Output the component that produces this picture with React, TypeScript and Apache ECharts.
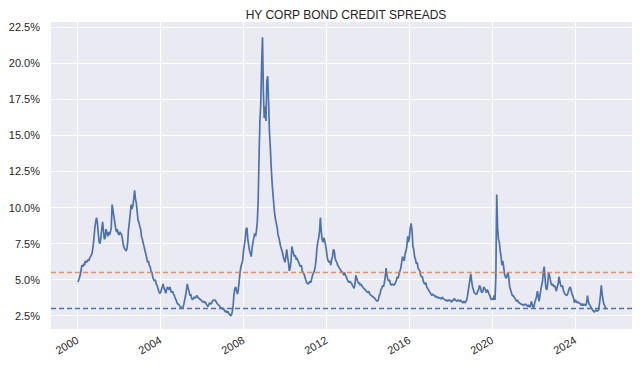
import React, { useEffect, useRef } from "react";
import * as echarts from "echarts";

// Semi-monthly readings (24 per year) of HY corporate bond OAS, in %
const startYear = 2000;
const pointsPerYear = 24;

const spreads2000s = [
  // 2000
  4.86, 4.9, 5.1, 5.3, 5.6, 6.0, 5.9, 6.1, 6.0, 6.3, 6.2, 6.25, 6.4, 6.3, 6.5, 6.6, 6.7, 6.9, 7.3, 7.9, 8.6, 9.0, 9.3, 8.9,
  // 2001
  8.2, 7.6, 7.5, 7.9, 8.5, 9.0, 8.4, 7.8, 7.9, 8.5, 8.3, 8.0, 8.3, 8.1, 8.3, 8.6, 10.2, 9.8, 9.4, 9.0, 8.6, 8.3, 8.5, 8.2,
  // 2002
  8.1, 8.3, 8.2, 8.1, 7.8, 7.4, 7.2, 7.1, 7.0, 7.1, 7.6, 8.5, 9.0, 9.6, 10.2, 9.9, 10.1, 10.6, 11.2, 10.6, 10.3, 9.7, 9.1, 9.0,
  // 2003
  8.7, 8.5, 8.0, 7.8, 7.5, 7.3, 7.0, 6.8, 6.5, 6.2, 6.3, 6.0, 5.9, 5.6, 5.5, 5.2, 5.0, 4.9, 5.0, 4.7, 4.6, 4.4, 4.2, 4.05,
  // 2004
  4.1, 4.3, 4.5, 4.7, 4.4, 4.3, 4.05, 4.3, 4.5, 4.4, 4.3, 4.5, 4.2, 4.1, 4.2, 4.0, 3.9, 3.7, 3.6, 3.4, 3.3, 3.3, 3.2, 3.1,
  // 2005
  3.1, 3.0, 3.1, 3.3, 3.6, 3.9, 4.3, 4.7, 4.4, 4.2, 3.9, 4.0, 3.7, 3.6, 3.7, 3.8, 3.7, 3.8, 3.9, 3.8, 3.7, 3.7, 3.6, 3.6,
  // 2006
  3.5, 3.45, 3.5, 3.4, 3.45, 3.3, 3.2, 3.15, 3.3, 3.4, 3.3, 3.35, 3.5, 3.6, 3.55, 3.6, 3.5, 3.4, 3.3, 3.25, 3.2, 3.1, 3.0, 3.05,
  // 2007
  2.95, 3.0, 2.85, 2.75, 2.85, 2.7, 2.8, 2.65, 2.6, 2.5, 2.55, 2.75, 3.2, 4.0, 4.4, 4.5, 4.2, 4.0, 4.3, 4.9, 5.5, 5.9, 6.1, 6.3,
  // 2008
  7.0, 7.4, 7.8, 8.5, 8.6, 7.8, 7.4, 7.0, 6.8, 6.6, 7.2, 7.6, 7.9, 8.2, 8.0, 8.4, 9.0, 10.5, 13.5, 16.0, 17.2, 19.9, 21.8, 18.0,
  // 2009
  16.2, 17.0, 16.0, 18.8, 19.1, 17.4, 15.3, 14.2, 12.9, 11.8, 11.0, 10.3, 9.6, 9.2, 8.9, 8.6, 8.1, 7.9, 7.6, 7.3, 7.1, 6.9, 6.6, 6.4,
];

const spreads2010s = [
  // 2010
  6.2, 6.6, 7.1, 6.6, 6.2, 5.6, 5.8, 6.3, 7.3, 7.0, 6.8, 6.6, 6.7, 6.4, 6.5, 6.3, 6.2, 6.0, 5.9, 6.0, 5.6, 5.5, 5.4, 5.2,
  // 2011
  5.0, 4.8, 4.75, 4.7, 4.8, 4.9, 4.8, 5.1, 5.3, 5.5, 5.6, 5.9, 6.4, 7.2, 7.6, 7.9, 8.4, 9.3, 8.3, 7.8, 7.6, 7.9, 7.7, 7.4,
  // 2012
  7.0, 6.5, 6.3, 6.2, 6.3, 6.0, 6.4, 6.6, 7.1, 7.0, 6.5, 6.3, 6.2, 6.0, 5.9, 5.8, 5.7, 5.6, 5.5, 5.5, 5.3, 5.5, 5.3, 5.2,
  // 2013
  5.0, 4.9, 4.8, 4.9, 4.8, 4.75, 4.6, 4.5, 4.4, 4.7, 5.3, 5.1, 4.9, 4.75, 4.8, 4.6, 4.7, 4.55, 4.5, 4.4, 4.35, 4.3, 4.2, 4.15,
  // 2014
  4.1, 4.2, 4.0, 3.95, 3.9, 3.85, 3.8, 3.75, 3.7, 3.6, 3.55, 3.5, 3.6, 3.9, 4.0, 4.3, 4.4, 4.6, 4.5, 4.8, 5.2, 5.8, 5.3, 5.0,
  // 2015
  4.9, 5.0, 4.7, 4.6, 4.7, 4.65, 4.6, 4.7, 4.8, 5.0, 5.2, 5.1, 5.4, 5.6, 5.8, 6.2, 6.6, 6.4, 6.3, 6.8, 7.0, 7.3, 8.0, 7.6,
  // 2016
  8.0, 8.6, 8.9, 8.4, 7.3, 7.1, 6.6, 6.4, 6.1, 6.2, 5.8, 5.7, 5.6, 5.3, 5.2, 5.2, 4.9, 4.75, 4.7, 4.8, 4.5, 4.4, 4.3, 4.2,
  // 2017
  4.1, 4.0, 3.9, 4.0, 3.95, 3.9, 3.8, 3.85, 3.75, 3.8, 3.7, 3.75, 3.7, 3.65, 3.8, 3.7, 3.65, 3.6, 3.55, 3.6, 3.5, 3.6, 3.55, 3.6,
  // 2018
  3.5, 3.45, 3.6, 3.55, 3.7, 3.6, 3.55, 3.5, 3.6, 3.55, 3.5, 3.6, 3.5, 3.45, 3.4, 3.5, 3.4, 3.45, 3.55, 3.8, 4.2, 4.6, 5.0, 5.4,
  // 2019
  4.9, 4.5, 4.3, 4.1, 4.05, 4.0, 4.0, 4.2, 4.3, 4.6, 4.5, 4.2, 4.1, 4.2, 4.5, 4.4, 4.3, 4.1, 4.3, 4.2, 4.0, 3.9, 3.7, 3.6,
];

const spreads2020s = [
  // 2020
  3.7, 3.6, 3.9, 3.6, 5.2, 10.9, 8.6, 7.8, 7.6, 7.0, 6.6, 6.0, 6.3, 5.9, 5.4, 5.2, 5.1, 5.3, 5.5, 5.1, 4.5, 4.3, 4.1, 3.9,
  // 2021
  3.9, 3.8, 3.7, 3.6, 3.5, 3.6, 3.45, 3.4, 3.35, 3.3, 3.3, 3.25, 3.2, 3.3, 3.25, 3.3, 3.2, 3.15, 3.25, 3.1, 3.15, 3.5, 3.3, 3.1,
  // 2022
  3.1, 3.4, 3.6, 3.8, 4.2, 3.9, 3.5, 3.9, 4.3, 4.6, 4.9, 5.6, 5.9, 5.0, 4.4, 4.3, 4.7, 5.5, 5.3, 5.0, 4.7, 4.6, 4.7, 4.5,
  // 2023
  4.6, 4.4, 4.2, 4.5, 4.7, 5.2, 4.9, 4.6, 4.5, 4.6, 4.3, 4.1, 4.0, 3.95, 3.9, 4.0, 4.2, 4.4, 4.5, 4.3, 4.0, 3.9, 3.7, 3.4,
  // 2024
  3.6, 3.5, 3.4, 3.45, 3.4, 3.35, 3.3, 3.2, 3.35, 3.2, 3.3, 3.25, 3.2, 3.4, 3.9, 3.5, 3.3, 3.2, 3.1, 3.0, 2.9, 2.8, 2.75, 2.85,
  // 2025
  2.9, 2.8, 2.85, 2.9, 3.4, 3.9, 4.6, 4.0, 3.6, 3.3, 3.2, 3.0, 2.95,
];

const referenceLevels = [5.48, 3.05]; // orange and blue dashed lines
const xTickYears = [2000, 2004, 2008, 2012, 2016, 2020, 2024];
const yTickValues = [2.5, 5.0, 7.5, 10.0, 12.5, 15.0, 17.5, 20.0, 22.5];

export default function App() {
  const ref = useRef<HTMLDivElement>(null);

  useEffect(() => {
    if (!ref.current) return;
    const chart = echarts.init(ref.current, undefined, { renderer: "svg" });
    const all = [...spreads2000s, ...spreads2010s, ...spreads2020s];
    const seriesData = all.map((v, i) => [startYear + i / pointsPerYear, v]);

    const textColor = "#262626";
    const font = "Liberation Sans, Arial, sans-serif";

    chart.setOption({
      animation: false,
      title: {
        text: "HY CORP BOND CREDIT SPREADS",
        left: 341,
        top: 4,
        textAlign: "center",
        textStyle: { fontSize: 12, fontWeight: "normal", color: textColor, fontFamily: font },
      },
      grid: {
        left: 51,
        right: 8,
        top: 22,
        bottom: 40,
        show: true,
        backgroundColor: "#EAEAF2",
        borderWidth: 0,
      },
      xAxis: {
        type: "value",
        min: 1998.72,
        max: 2026.73,
        axisLine: { show: false },
        axisTick: { show: false },
        splitLine: { show: false },
        axisLabel: {
          customValues: xTickYears,
          rotate: 30,
          margin: 10,
          fontSize: 11,
          color: textColor,
          fontFamily: font,
          formatter: (v: number) => String(Math.round(v)),
        },
      },
      yAxis: {
        type: "value",
        min: 1.58,
        max: 22.86,
        axisLine: { show: false },
        axisTick: { show: false },
        splitLine: { show: false },
        axisLabel: {
          customValues: yTickValues,
          margin: 11,
          fontSize: 11,
          color: textColor,
          fontFamily: font,
          formatter: (v: number) => v.toFixed(1) + "%",
        },
      },
      series: [
        {
          type: "line",
          name: "grid",
          z: 1,
          silent: true,
          data: seriesData,
          symbol: "none",
          lineStyle: { opacity: 0 },
          markLine: {
            silent: true,
            z: 1,
            symbol: ["none", "none"],
            label: { show: false },
            lineStyle: { color: "#FFFFFF", width: 1.1, type: "solid" },
            data: [
              ...xTickYears.map((y) => ({ xAxis: y })),
              ...yTickValues.map((v) => ({ yAxis: v })),
            ],
          },
        },
        {
          type: "line",
          name: "HY OAS",
          z: 3,
          data: seriesData,
          symbol: "none",
          lineStyle: { color: "#4C72B0", width: 1.7 },
          markLine: {
            silent: true,
            z: 4,
            symbol: ["none", "none"],
            label: { show: false },
            data: [
              { yAxis: referenceLevels[0], lineStyle: { color: "#DD8452", width: 1.3, type: [5, 3], opacity: 0.85 } },
              { yAxis: referenceLevels[1], lineStyle: { color: "#4C72B0", width: 1.3, type: [5, 3] } },
            ],
          },
        },
      ],
    });

    return () => chart.dispose();
  }, []);

  return (
    <div
      ref={ref}
      style={{ position: "fixed", left: 0, top: 0, width: 640, height: 369, background: "#FFFFFF" }}
    />
  );
}
